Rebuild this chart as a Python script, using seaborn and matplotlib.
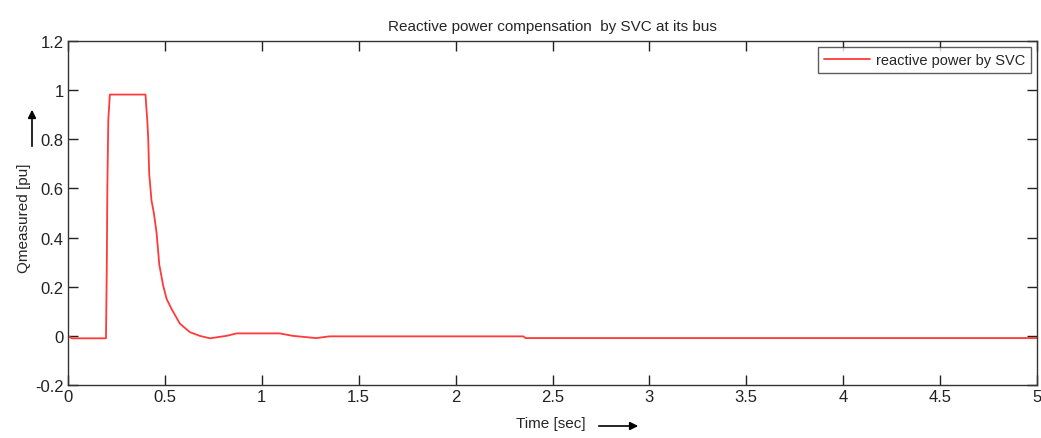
import numpy as np
import pandas as pd
import matplotlib
matplotlib.use("Agg")
import matplotlib.pyplot as plt
import seaborn as sns

# SVC reactive power response
time_sec = [0.0, 0.02, 0.196, 0.200, 0.203, 0.208, 0.216, 0.400, 0.405, 0.409,
            0.414, 0.419, 0.431, 0.443, 0.457, 0.471, 0.491, 0.509, 0.534, 0.577,
            0.629, 0.680, 0.732, 0.818, 0.870, 1.093, 1.160, 1.280, 1.350, 2.350,
            2.360, 5.0]
q_measured = [0.0, -0.01, -0.01, 0.27, 0.60, 0.88, 0.982, 0.982, 0.92, 0.88,
              0.80, 0.66, 0.55, 0.50, 0.42, 0.29, 0.205, 0.15, 0.11, 0.05,
              0.015, 0.0, -0.01, 0.0, 0.01, 0.01, 0.0, -0.009, -0.002, -0.002,
              -0.009, -0.009]

x_ticks = [0, 0.5, 1, 1.5, 2, 2.5, 3, 3.5, 4, 4.5, 5]
x_ticklabels = ["0", "0.5", "1", "1.5", "2", "2.5", "3", "3.5", "4", "4.5", "5"]
y_ticks = [-0.2, 0, 0.2, 0.4, 0.6, 0.8, 1, 1.2]
y_ticklabels = ["-0.2", "0", "0.2", "0.4", "0.6", "0.8", "1", "1.2"]

df = pd.DataFrame({"t": time_sec, "q": q_measured})

sns.set_style("white")
plt.rcParams['font.family'] = ['Liberation Sans Narrow', 'Liberation Sans', 'DejaVu Sans']

fig = plt.figure(figsize=(10.41, 4.39), dpi=100)
ax = fig.add_axes([68 / 1041, 1 - 386 / 439, (1037 - 68) / 1041, (386 - 42) / 439])

sns.lineplot(data=df, x="t", y="q", color="#ff3a3a", linewidth=1.3,
             label="reactive power by SVC", sort=False, estimator=None, ax=ax)

ax.set_xlim(0, 5)
ax.set_ylim(-0.2, 1.2)
ax.set_xticks(x_ticks)
ax.set_xticklabels(x_ticklabels)
ax.set_yticks(y_ticks)
ax.set_yticklabels(y_ticklabels)
ax.tick_params(direction="in", length=7, width=1, top=True, right=True,
               bottom=True, left=True, labelsize=12, colors="#222222", pad=3)
for s in ax.spines.values():
    s.set_visible(True)
    s.set_color("#333333")
    s.set_linewidth(1.0)

ax.set_title("Reactive power compensation  by SVC at its bus", fontsize=11, pad=8)
ax.set_xlabel("")
ax.set_ylabel("")

# axis labels with arrows (MATLAB style)
fig.text(551 / 1041, 1 - 424 / 439, "Time [sec]", fontsize=11, ha="center", va="center")
fig.text(24 / 1041, 1 - 218 / 439, "Qmeasured [pu]", fontsize=11, rotation=90,
         ha="center", va="center")
fig.patches.append(matplotlib.patches.FancyArrowPatch(
    (596 / 1041, 1 - 427 / 439), (641 / 1041, 1 - 427 / 439),
    transform=fig.transFigure, arrowstyle="-|>", mutation_scale=12,
    color="black", linewidth=1.2))
fig.patches.append(matplotlib.patches.FancyArrowPatch(
    (32 / 1041, 1 - 150 / 439), (32 / 1041, 1 - 108 / 439),
    transform=fig.transFigure, arrowstyle="-|>", mutation_scale=12,
    color="black", linewidth=1.2))

leg = ax.legend(loc="upper right", fontsize=10.5, frameon=True, fancybox=False,
                borderaxespad=0.4, handlelength=3.2, handletextpad=0.4,
                borderpad=0.4)
leg.get_frame().set_edgecolor("#333333")
leg.get_frame().set_linewidth(1.0)

fig.savefig("out.png", dpi=100)
